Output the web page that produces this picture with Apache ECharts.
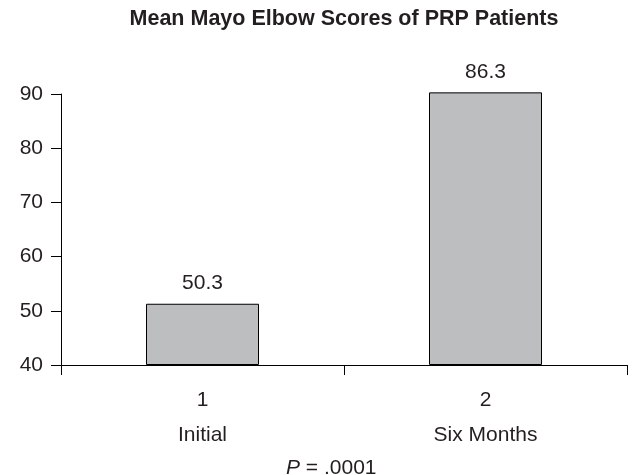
<!DOCTYPE html>
<html>
<head>
<meta charset="utf-8">
<script src="https://cdn.jsdelivr.net/npm/echarts@6/dist/echarts.min.js"></script>
<style>
html,body{margin:0;padding:0;background:#fff;}
#main{width:634px;height:475px;}
</style>
</head>
<body>
<div id="main"></div>
<script>
var categories = ['1', '2'];
var categoryNames = ['Initial', 'Six Months'];
var barHeights = [51.3, 90.3];
var valueLabels = ['50.3', '86.3'];
var yTicks = [40, 50, 60, 70, 80, 90];

var FONT = '"Liberation Sans", Arial, Helvetica, sans-serif';
var TXT = '#231f20';
var FS = 21;
var axisMin = yTicks[0];

var chart = echarts.init(document.getElementById('main'), null, {renderer: 'canvas'});
chart.setOption({
  animation: false,
  backgroundColor: '#ffffff',
  title: [{
    text: 'Mean Mayo Elbow Scores of PRP Patients',
    left: 339, textAlign: 'center', top: 3,
    textStyle: {fontFamily: FONT, fontSize: 21.5, fontWeight: 'bold', color: TXT}
  }, {
    text: '{i|P} = .0001',
    left: 281, top: 453,
    textStyle: {fontFamily: FONT, fontSize: FS, fontWeight: 'normal', color: TXT,
      rich: {i: {fontFamily: FONT, fontSize: FS, fontStyle: 'italic', color: TXT}}}
  }],
  grid: {left: 61, right: 7, top: 94, bottom: 110, containLabel: false},
  xAxis: {
    type: 'category',
    data: categories,
    boundaryGap: true,
    axisLine: {show: true, lineStyle: {color: '#000', width: 1}},
    axisTick: {show: true, length: 10, interval: 0, lineStyle: {color: '#000'}},
    axisLabel: {
      margin: 18, interval: 0,
      formatter: function (v, i) { return '{n|' + v + '}\n{c|' + categoryNames[i] + '}'; },
      rich: {
        n: {fontFamily: FONT, fontSize: FS, color: TXT, lineHeight: 35},
        c: {fontFamily: FONT, fontSize: FS, color: TXT, lineHeight: 35}
      }
    }
  },
  yAxis: {
    type: 'value',
    min: yTicks[0], max: yTicks[yTicks.length - 1], interval: 10,
    splitLine: {show: false},
    axisLine: {show: true, lineStyle: {color: '#000', width: 1}},
    axisTick: {show: true, length: 10, lineStyle: {color: '#000'}},
    axisLabel: {margin: 18, fontFamily: FONT, fontSize: FS, color: TXT}
  },
  series: [{
    type: 'bar',
    stack: 'b',
    data: barHeights.map(function () { return axisMin; }),
    barWidth: 113,
    silent: true,
    itemStyle: {color: 'rgba(0,0,0,0)'},
    label: {show: false}
  }, {
    type: 'bar',
    stack: 'b',
    data: barHeights.map(function (v) { return v - axisMin; }),
    barWidth: 113,
    clip: false,
    itemStyle: {color: '#bdbec0', borderColor: '#000', borderWidth: 1},
    label: {
      show: true, position: 'top', distance: 10,
      formatter: function (p) { return valueLabels[p.dataIndex]; },
      fontFamily: FONT, fontSize: FS, color: TXT
    }
  }]
});
</script>
</body>
</html>
